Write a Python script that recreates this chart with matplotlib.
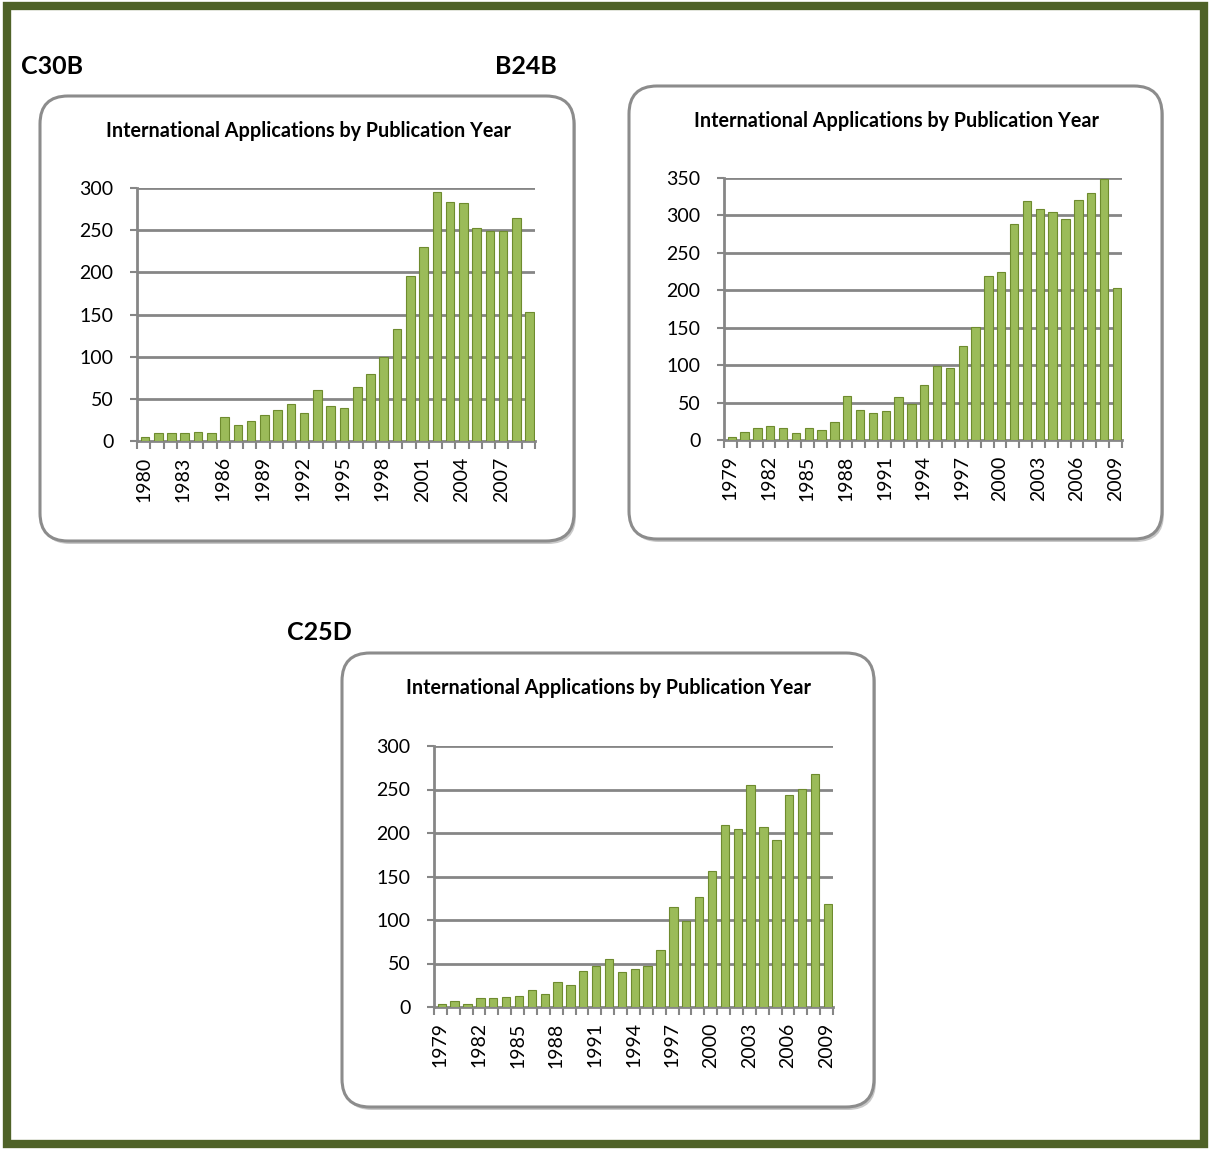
import numpy as np
import matplotlib
matplotlib.use("Agg")
import matplotlib.pyplot as plt
from matplotlib.patches import FancyBboxPatch, Rectangle

plt.rcParams['font.family'] = ['Lato', 'DejaVu Sans']

# data
years_c30b = list(range(1980, 2010))
vals_c30b = [5, 10, 10, 9, 11, 10, 28, 19, 24, 31, 37, 44, 33, 60, 42, 39, 64, 80,
             100, 133, 196, 230, 295, 283, 282, 253, 249, 249, 265, 153]

years_b24b = list(range(1979, 2010))
vals_b24b = [4, 11, 16, 19, 16, 10, 16, 13, 24, 59, 40, 36, 39, 57, 48, 74, 99, 96,
             125, 151, 219, 225, 289, 319, 309, 305, 295, 320, 330, 348, 203]

years_c25d = list(range(1979, 2010))
vals_c25d = [3, 7, 3, 10, 10, 12, 13, 19, 15, 29, 25, 41, 47, 55, 40, 44, 47, 66,
             115, 99, 126, 156, 209, 205, 255, 207, 192, 244, 251, 268, 118]

W, H = 1210, 1149
fig = plt.figure(figsize=(W / 100, H / 100), dpi=100)

bg = fig.add_axes([0, 0, 1, 1])
bg.set_xlim(0, W)
bg.set_ylim(H, 0)
bg.axis('off')

# outer green frame
bg.add_patch(Rectangle((6.5, 5.5), W - 13, H - 11, fill=False, ec='#4F6228', lw=6))

def panel(x0, y0, x1, y1):
    bg.add_patch(FancyBboxPatch((x0 + 2, y0 + 3), x1 - x0, y1 - y0,
                                boxstyle="round,pad=0,rounding_size=28",
                                fc='#C8C8C8', ec='none'))
    bg.add_patch(FancyBboxPatch((x0, y0), x1 - x0, y1 - y0,
                                boxstyle="round,pad=0,rounding_size=28",
                                fc='white', ec='#8C8C8C', lw=2.2))

panel(40, 96, 574, 541)
panel(629, 86, 1162, 539)
panel(342, 653, 874, 1107)

bg.text(21, 66, 'C30B', fontsize=18, fontweight='bold', va='center', ha='left')
bg.text(495, 66, 'B24B', fontsize=18, fontweight='bold', va='center', ha='left')
bg.text(287, 633, 'C25D', fontsize=18, fontweight='bold', va='center', ha='left')

title = 'International Applications by Publication Year'
bg.text(308, 131, title, fontsize=14.2, fontweight='bold', ha='center', va='center')
bg.text(896, 121, title, fontsize=14.2, fontweight='bold', ha='center', va='center')
bg.text(608, 688, title, fontsize=14.2, fontweight='bold', ha='center', va='center')

grey = '#868686'

def chart(years, vals, left, right, bottom, top, ymax):
    ax = fig.add_axes([left / W, 1 - bottom / H, (right - left) / W, (bottom - top) / H])
    ax.patch.set_alpha(0)
    n = len(years)
    x = np.arange(n)
    ax.bar(x + 0.1, vals, width=0.65, color='#9BBB59', edgecolor='#6E8B2E', lw=0.8, zorder=3)
    ax.set_xlim(-0.5, n - 0.5)
    ax.set_ylim(0, ymax)
    yt = np.arange(0, ymax + 1, 50)
    ax.set_yticks(yt)
    ax.set_yticklabels([str(v) for v in yt], fontsize=14)
    for v in yt[1:]:
        ax.axhline(v, color=grey, lw=2, zorder=1)
    ax.set_xticks(x[::3])
    ax.set_xticklabels([str(y) for y in years[::3]], rotation=90, fontsize=14)
    ax.set_xticks(np.arange(n + 1) - 0.5, minor=True)
    ax.tick_params(axis='x', which='major', length=0, pad=11)
    ax.tick_params(axis='x', which='minor', length=6, color=grey, width=1.5)
    ax.tick_params(axis='y', length=5, color=grey, width=1.5, pad=12)
    for s in ['top', 'right']:
        ax.spines[s].set_visible(False)
    for s in ['left', 'bottom']:
        ax.spines[s].set_color(grey)
        ax.spines[s].set_linewidth(2)
    return ax

chart(years_c30b, vals_c30b, 137, 535, 441, 188, 300)
chart(years_b24b, vals_b24b, 724, 1122, 440, 178, 350)
chart(years_c25d, vals_c25d, 434, 833, 1007, 746, 300)

fig.savefig('out.png', dpi=100)
